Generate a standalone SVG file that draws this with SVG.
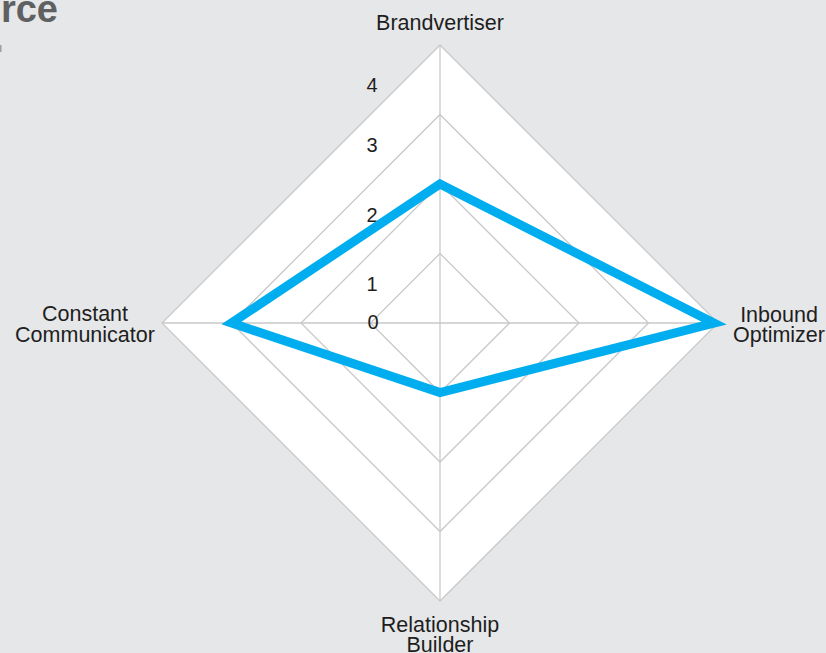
<svg xmlns="http://www.w3.org/2000/svg" width="826" height="653" viewBox="0 0 826 653">
<style>
.lbl{font-family:"Liberation Sans",Arial,sans-serif;font-size:21.5px;fill:#1e1e1e;text-anchor:middle}
.tick{font-family:"Liberation Sans",Arial,sans-serif;font-size:20px;fill:#1e1e1e;text-anchor:middle}
.grid{fill:none;stroke:#c9c9c9;stroke-width:1.3}
</style>
<rect width="826" height="653" fill="#e6e7e8"/>
<text x="58" y="22" font-family="Liberation Sans,Arial,sans-serif" font-weight="bold" font-size="38" fill="#5f6062" text-anchor="end">rce</text>
<rect x="0" y="45" width="1.5" height="7" fill="#a0a0a2"/>
<g id="grid">
<polygon points="440,45 718,323 440,601 162,323" fill="#ffffff" stroke="#c9c9c9" stroke-width="1.3"/>
<polygon class="grid" points="440,114.5 648.5,323 440,531.5 231.5,323"/>
<polygon class="grid" points="440,184 579,323 440,462 301,323"/>
<polygon class="grid" points="440,253.5 509.5,323 440,392.5 370.5,323"/>
<line class="grid" x1="440" y1="45" x2="440" y2="601"/>
<line class="grid" x1="162" y1="323" x2="718" y2="323"/>
</g>
<g id="ticks">
<text class="tick" x="372" y="92">4</text>
<text class="tick" x="372" y="152">3</text>
<text class="tick" x="372" y="222">2</text>
<text class="tick" x="372" y="291">1</text>
<text class="tick" x="373" y="329">0</text>
</g>
<g id="connectors">
<polygon points="440,184 714,323 440,392.5 231.5,323" fill="none" stroke="#00aeef" stroke-width="9" stroke-linejoin="miter"/>
</g>
<g id="node-brandvertiser"><text class="lbl" x="440" y="30">Brandvertiser</text></g>
<g id="node-inbound"><text class="lbl" x="779" y="322">Inbound</text><text class="lbl" x="779" y="342">Optimizer</text></g>
<g id="node-relationship"><text class="lbl" x="440" y="632">Relationship</text><text class="lbl" x="440" y="652">Builder</text></g>
<g id="node-constant"><text class="lbl" x="85" y="321">Constant</text><text class="lbl" x="85" y="342">Communicator</text></g>
</svg>
